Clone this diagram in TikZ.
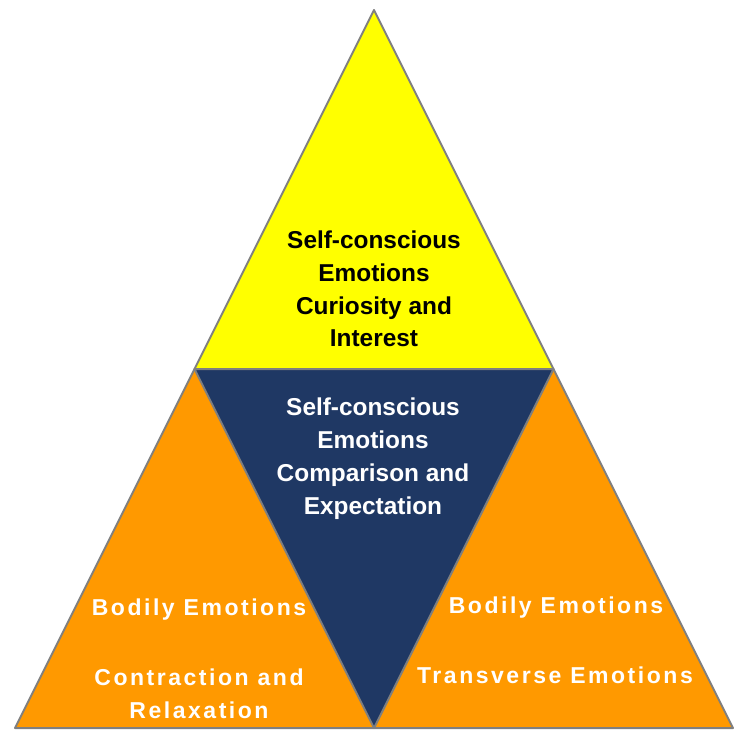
\documentclass[tikz,border=0pt]{standalone}
\usepackage{fontspec}
\setmainfont{Liberation Sans}
\newfontfamily\spacedfont[LetterSpace=11]{Liberation Sans}
\definecolor{tyellow}{HTML}{FFFF00}
\definecolor{torange}{HTML}{FF9900}
\definecolor{tnavy}{HTML}{1F3864}
\definecolor{tedge}{HTML}{7F7F7F}
\begin{document}
\begin{tikzpicture}[x=1pt,y=-1pt,
  edge/.style={draw=tedge,line width=2pt,line join=round},
  toptext/.style={align=center,font=\fontsize{24.4}{32.7}\selectfont\bfseries,text=black},
  midtext/.style={align=center,font=\fontsize{24.4}{33}\selectfont\bfseries,text=white},
  sidetext/.style={align=center,font=\fontsize{23}{33}\selectfont\spacedfont\bfseries,text=white}]
\useasboundingbox (0,0) rectangle (750,745);
\coordinate (A) at (374,10);
\coordinate (L) at (194.5,369);
\coordinate (R) at (553.5,369);
\coordinate (BL) at (15,728);
\coordinate (BM) at (374,728);
\coordinate (BR) at (733,728);
\fill[tyellow] (A) -- (L) -- (R) -- cycle;
\fill[torange] (L) -- (BL) -- (BM) -- cycle;
\fill[torange] (R) -- (BM) -- (BR) -- cycle;
\fill[tnavy] (L) -- (R) -- (BM) -- cycle;
\draw[edge] (A) -- (BL) -- (BR) -- cycle;
\draw[edge] (L) -- (R) -- (BM) -- cycle;
\node[toptext] (top) at (374,289) {Self-conscious\\Emotions\\Curiosity and\\Interest};
\node[midtext] (mid) at (373,459) {Self-conscious\\Emotions\\Comparison and\\Expectation};
\node[sidetext] (l1) at (199,610) {Bodily Emotions};
\node[sidetext] (l2) at (199,693.5) {Contraction and\\Relaxation};
\node[sidetext] (r1) at (556,608) {Bodily Emotions};
\node[sidetext] (r2) at (555,675) {Transverse Emotions};
\end{tikzpicture}
\end{document}
